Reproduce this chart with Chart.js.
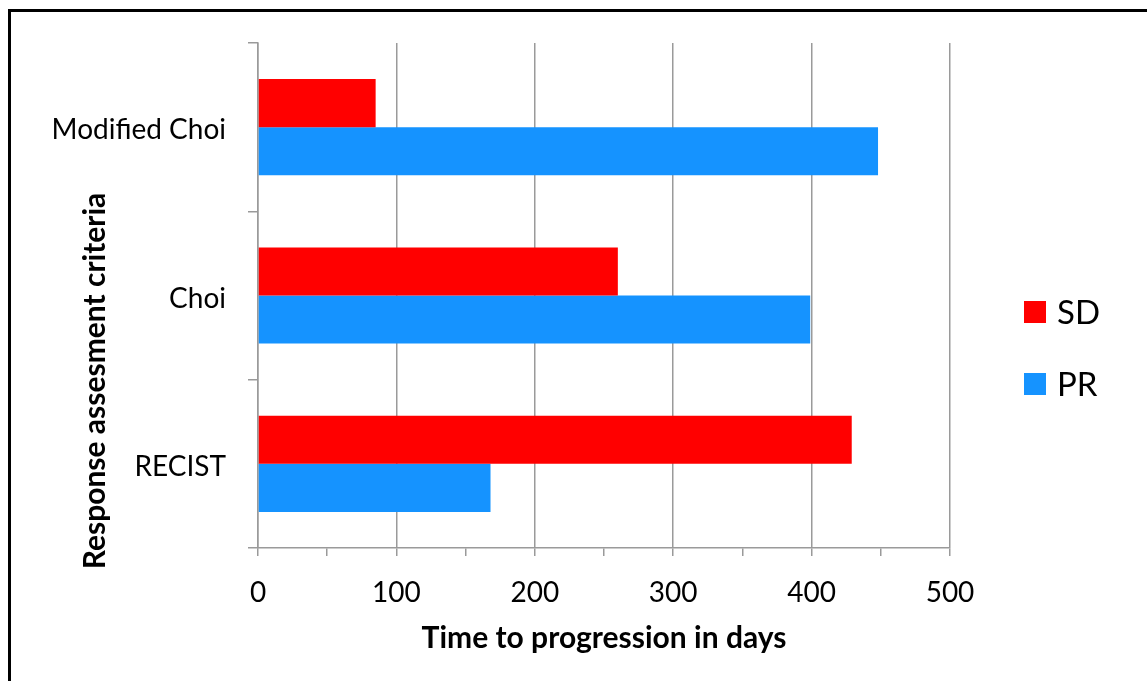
<!DOCTYPE html>
<html>
<head>
<meta charset="utf-8">
<script src="https://cdn.jsdelivr.net/npm/chart.js@4"></script>
<style>
  html, body { margin: 0; padding: 0; background: #fff; overflow: hidden; }
  #wrap { position: relative; width: 1147px; height: 681px; }
  #frame { position: absolute; left: 8px; top: 9px; width: 1200px; height: 700px;
           border-left: 3px solid #000; border-top: 3px solid #000; pointer-events: none; }
  canvas { position: absolute; left: 0; top: 0; }
</style>
</head>
<body>
<div id="wrap">
  <canvas id="c" width="1147" height="681"></canvas>
  <div id="frame"></div>
</div>
<script>
// Response assessment criteria, top to bottom
const categories = ['Modified Choi', 'Choi', 'RECIST'];
// Median time to progression (days)
const sdDays = [85, 260, 429];
const prDays = [448, 399, 168];
const seriesLabels = ['SD', 'PR'];
const seriesColors = ['#FF0000', '#1593FF'];
const xTickLabels = [0, 100, 200, 300, 400, 500];

const FONT = 'Lato, "Open Sans", sans-serif';
const GRID = '#9a9a9a';

const sideText = {
  id: 'sideText',
  afterDraw(chart) {
    const ctx = chart.ctx;
    ctx.save();
    // y-axis title
    ctx.fillStyle = '#000';
    ctx.font = 'bold 30px ' + FONT;
    ctx.textAlign = 'center';
    ctx.textBaseline = 'middle';
    ctx.translate(95, 381);
    ctx.rotate(-Math.PI / 2);
    ctx.fillText('Response assesment criteria', 0, 0);
    ctx.restore();

    // legend
    ctx.save();
    const rows = [312, 384];
    chart.data.datasets.forEach((ds, i) => {
      ctx.fillStyle = ds.backgroundColor;
      ctx.fillRect(1024, rows[i] - 11, 22, 22);
      ctx.fillStyle = '#000';
      ctx.font = '33px ' + FONT;
      ctx.textAlign = 'left';
      ctx.textBaseline = 'middle';
      ctx.fillText(ds.label, 1057, rows[i] + 1);
    });
    ctx.restore();
  }
};

new Chart(document.getElementById('c'), {
  type: 'bar',
  data: {
    labels: categories,
    datasets: [
      { label: seriesLabels[0], data: sdDays, backgroundColor: seriesColors[0] },
      { label: seriesLabels[1], data: prDays, backgroundColor: seriesColors[1] }
    ]
  },
  options: {
    indexAxis: 'y',
    responsive: false,
    animation: false,
    events: [],
    categoryPercentage: 0.571,
    barPercentage: 1.0,
    layout: { padding: { left: 20, top: 43, right: 197, bottom: 23 } },
    plugins: { legend: { display: false }, tooltip: { enabled: false } },
    scales: {
      x: {
        min: 0, max: 500,
        afterFit(s) { s.height = 110; },
        afterBuildTicks(s) {
          const t = [];
          for (let v = 0; v <= 500; v += 50) t.push({ value: v });
          s.ticks = t;
        },
        ticks: {
          color: '#000',
          font: { family: FONT, size: 28 },
          padding: 20,
          maxRotation: 0,
          autoSkip: false,
          callback: v => xTickLabels.includes(v) ? String(v) : ''
        },
        grid: {
          color: c => (c.tick && c.tick.value % 100 === 0) ? GRID : 'rgba(0,0,0,0)',
          tickColor: GRID,
          tickLength: 8,
          lineWidth: 1.5
        },
        border: { color: GRID, width: 1.5 },
        title: {
          display: true,
          text: 'Time to progression in days',
          color: '#000',
          font: { family: FONT, size: 30, weight: 'bold' },
          padding: { top: 0, bottom: 2 }
        }
      },
      y: {
        afterFit(s) { s.width = 238; },
        ticks: {
          color: '#000',
          font: { family: FONT, size: 28 },
          padding: 22,
          labelOffset: 3
        },
        grid: {
          drawOnChartArea: false,
          tickColor: GRID,
          tickLength: 10,
          lineWidth: 1.5
        },
        border: { color: GRID, width: 1.5 }
      }
    }
  },
  plugins: [sideText]
});
</script>
</body>
</html>
